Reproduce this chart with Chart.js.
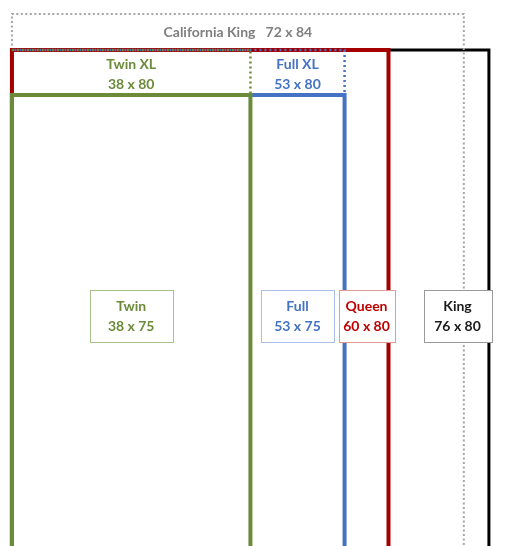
<!DOCTYPE html>
<html><head><meta charset="utf-8">
<script src="https://cdn.jsdelivr.net/npm/chart.js@4.4.1/dist/chart.umd.min.js"></script>
<style>html,body{margin:0;padding:0;background:#fff}</style>
</head><body>
<canvas id="c" width="509" height="546"></canvas>
<script>
// ---- data ----
const mattresses = ['Twin', 'Twin XL', 'Full', 'Full XL', 'Queen', 'King', 'California King'];
const widths  = [38, 38, 53, 53, 60, 76, 72];   // inches
const lengths = [75, 80, 75, 80, 80, 80, 84];   // inches
const sizeLabels = mattresses.map((m, i) => widths[i] + ' x ' + lengths[i]);

// ---- styles ----
const styles = {
  'Twin':            {color: '#6b8b3a', width: 4,   dash: [],       offset: 0,   order: 1, open: false},
  'Full':            {color: '#4472c4', width: 4,   dash: [],       offset: 0,   order: 2, open: false},
  'Twin XL':         {color: '#6b8b3a', width: 2.5, dash: [2, 3],   offset: 0,   order: 3, open: true},
  'Full XL':         {color: '#4472c4', width: 2.5, dash: [2, 3],   offset: 2.5, order: 4, open: true},
  'Queen':           {color: '#a50000', width: 4,   dash: [],       offset: 0,   order: 5, open: false},
  'California King': {color: '#a6a6a6', width: 2,   dash: [2, 2.5], offset: 0,   order: 6, open: false},
  'King':            {color: '#000000', width: 3,   dash: [],       offset: 0,   order: 7, open: false}
};

function outline(i) {
  const w = widths[i], l = lengths[i];
  if (styles[mattresses[i]].open) return [{x: 0, y: l}, {x: w, y: l}, {x: w, y: 0}];
  return [{x: 0, y: 0}, {x: 0, y: l}, {x: w, y: l}, {x: w, y: 0}];
}

const datasets = mattresses.map((m, i) => ({
  label: m,
  data: outline(i),
  showLine: true,
  borderColor: styles[m].color,
  borderWidth: styles[m].width,
  borderDash: styles[m].dash,
  borderDashOffset: styles[m].offset,
  borderCapStyle: 'butt',
  borderJoinStyle: 'miter',
  pointRadius: 0,
  fill: false,
  tension: 0,
  order: styles[m].order
}));

const idx = n => mattresses.indexOf(n);
const labelSpecs = [
  {i: idx('California King'), x: widths[idx('California King')] / 2, y: 82, color: '#7f7f7f', oneLine: true},
  {i: idx('Twin XL'), x: widths[idx('Twin XL')] / 2, y: 77.3, color: '#6b8b3a'},
  {i: idx('Full XL'), x: (widths[idx('Twin')] + widths[idx('Full XL')]) / 2, y: 77.3, color: '#4472c4'},
  {i: idx('Twin'),  x: widths[idx('Twin')] / 2, y: 50.4, color: '#6b8b3a', box: 83, border: '#a9c18c'},
  {i: idx('Full'),  x: (widths[idx('Twin')] + widths[idx('Full')]) / 2, y: 50.4, color: '#4472c4', box: 73, border: '#a9bfe6'},
  {i: idx('Queen'), x: (widths[idx('Full')] + widths[idx('Queen')]) / 2, y: 50.4, color: '#c00000', box: 56, border: '#e59a9a'},
  {i: idx('King'),  x: 71, y: 50.4, color: '#1a1a1a', box: 68, border: '#9a9a9a'}
];

const labelPlugin = {
  id: 'sizeLabels',
  afterDatasetsDraw(chart) {
    const ctx = chart.ctx, xs = chart.scales.x, ys = chart.scales.y;
    ctx.save();
    ctx.font = 'bold 14px Lato, "DejaVu Sans", sans-serif';
    ctx.textAlign = 'center';
    ctx.textBaseline = 'middle';
    labelSpecs.forEach(s => {
      const cx = xs.getPixelForValue(s.x), cy = ys.getPixelForValue(s.y);
      if (s.box) {
        const bh = 52;
        ctx.fillStyle = '#ffffff';
        ctx.fillRect(cx - s.box / 2, cy - bh / 2, s.box, bh);
        ctx.strokeStyle = s.border;
        ctx.lineWidth = 1;
        ctx.strokeRect(Math.round(cx - s.box / 2) + 0.5, Math.round(cy - bh / 2) + 0.5, s.box, bh);
      }
      ctx.fillStyle = s.color;
      if (s.oneLine) {
        ctx.fillText(mattresses[s.i] + '   ' + sizeLabels[s.i], cx, cy);
      } else {
        ctx.fillText(mattresses[s.i], cx, cy - 10);
        ctx.fillText(sizeLabels[s.i], cx, cy + 10);
      }
    });
    ctx.restore();
  }
};

new Chart(document.getElementById('c'), {
  type: 'scatter',
  data: {datasets},
  options: {
    responsive: false,
    animation: false,
    layout: {padding: 0},
    plugins: {legend: {display: false}, tooltip: {enabled: false}},
    scales: {
      x: {type: 'linear', min: -1.9, max: 79.2, display: false},
      y: {type: 'linear', min: 24.9, max: 85.56, display: false}
    }
  },
  plugins: [labelPlugin]
});
</script>
</body></html>
